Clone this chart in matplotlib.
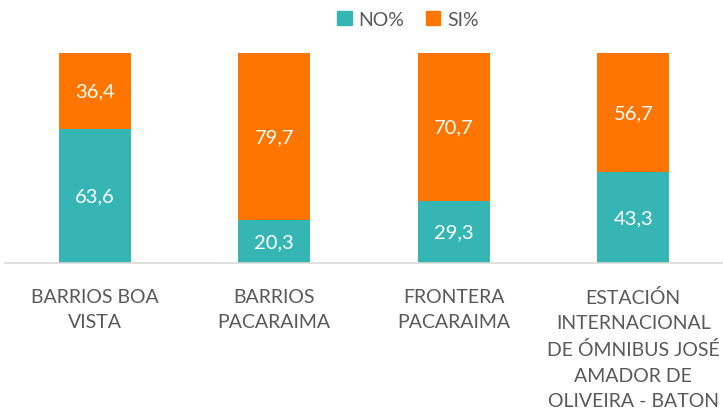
import matplotlib
matplotlib.use("Agg")
import matplotlib.pyplot as plt
from matplotlib.patches import Patch

categories = ["BARRIOS BOA\nVISTA", "BARRIOS\nPACARAIMA", "FRONTERA\nPACARAIMA",
              "ESTACIÓN\nINTERNACIONAL\nDE ÓMNIBUS JOSÉ\nAMADOR DE\nOLIVEIRA - BATON"]
no_pct = [63.6, 20.3, 29.3, 43.3]
si_pct = [36.4, 79.7, 70.7, 56.7]
series_names = ["NO%", "SI%"]

teal = "#35B6B4"
orange = "#FF7501"
gray = "#595959"

plt.rcParams['font.family'] = ['Lato', 'DejaVu Sans']

W, H = 723, 410
fig = plt.figure(figsize=(W/100, H/100), dpi=100)
ax = fig.add_axes([5/W, (H-264)/H, (W-5)/W, (264-54)/H])

x = list(range(len(categories)))
ax.bar(x, no_pct, width=0.4, color=teal)
ax.bar(x, si_pct, width=0.4, bottom=no_pct, color=orange)

for i in x:
    ax.text(i, no_pct[i]/2, f"{no_pct[i]:.1f}".replace('.', ','), ha='center', va='center',
            color='white', fontsize=14.5)
    ax.text(i, no_pct[i] + si_pct[i]/2, f"{si_pct[i]:.1f}".replace('.', ','), ha='center', va='center',
            color='white', fontsize=14.5)

ax.set_xlim(-0.5, 3.5)
ax.set_ylim(0, 100)
ax.set_yticks([])
ax.set_xticks(x)
ax.set_xticklabels(categories, fontsize=14, color=gray, linespacing=1.6)
ax.tick_params(axis='x', length=0, pad=18)
for s in ['top', 'right', 'left']:
    ax.spines[s].set_visible(False)
ax.spines['bottom'].set_color('#D9D9D9')
ax.spines['bottom'].set_linewidth(1.2)

handles = [Patch(color=teal), Patch(color=orange)]
fig.legend(handles, series_names, loc='center', bbox_to_anchor=(408/W, 1-20/H), ncol=2,
           frameon=False, fontsize=14, labelcolor=gray, handlelength=0.75, handleheight=0.75,
           handletextpad=0.35, columnspacing=1.1)

fig.savefig("out.png", dpi=100)
